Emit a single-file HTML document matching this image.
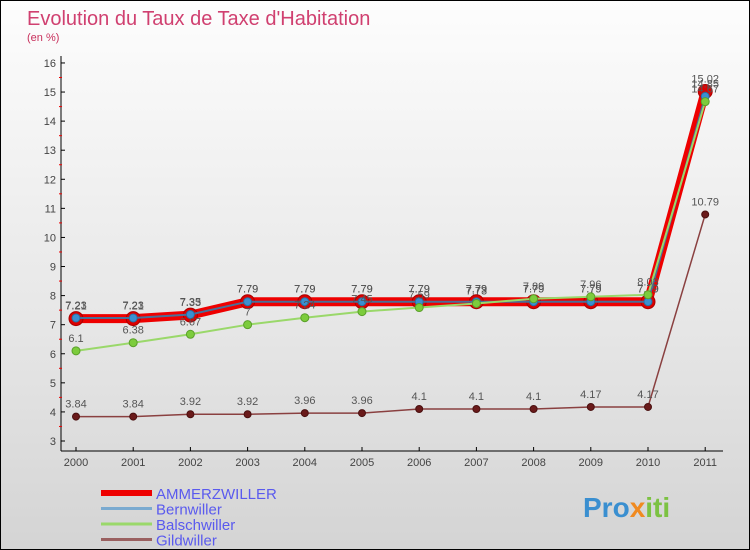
<!DOCTYPE html>
<html><head><meta charset="utf-8"><style>
body{margin:0}
#c{width:750px;height:550px;position:relative;box-sizing:border-box;border:1px solid #000;background:linear-gradient(#fdfdfd,#e6e6e6 60%,#d4d4d4);font-family:"Liberation Sans",sans-serif;overflow:hidden}
svg{position:absolute;left:0;top:0}
</style></head><body>
<div id="c">
<svg id="s" width="750" height="550">
<text x="26" y="24" font-size="20" fill="#d04070">Evolution du Taux de Taxe d'Habitation</text>
<text x="26" y="40" font-size="11" fill="#c8305c">(en %)</text>
<text x="582" y="516" font-size="28" font-weight="bold" fill="#3a8fd0">Pro<tspan fill="#f08a20">x</tspan><tspan fill="#7cc242">iti</tspan></text>
</svg>
</div>
<script>
const years=["2000","2001","2002","2003","2004","2005","2006","2007","2008","2009","2010","2011"];
const yTicks=[3,4,5,6,7,8,9,10,11,12,13,14,15,16];
const ammerz=[7.21,7.21,7.33,7.79,7.79,7.79,7.79,7.79,7.79,7.79,7.79,15.02];
const bern=[7.23,7.23,7.35,7.79,7.79,7.79,7.79,7.79,7.79,7.79,7.79,14.85];
const bals=[6.1,6.38,6.67,7,7.24,7.45,7.59,7.73,7.89,7.96,8.03,14.67];
const gild=[3.84,3.84,3.92,3.92,3.96,3.96,4.1,4.1,4.1,4.17,4.17,10.79];
const s=document.getElementById('s'),NS='http://www.w3.org/2000/svg';
const X=i=>75+i*57.2, Y=v=>440-(v-3)*29.08;
function mk(t,a,p){const e=document.createElementNS(NS,t);for(const k in a)e.setAttribute(k,a[k]);if(p===undefined)s.appendChild(e);else p.appendChild(e);return e;}
let ax=mk('line',{x1:60,y1:55,x2:60,y2:450,stroke:'#000'});


let bx=mk('line',{x1:60,y1:450,x2:722,y2:450,stroke:'#000'});


yTicks.forEach(v=>{
 mk('line',{x1:60,y1:Y(v),x2:64,y2:Y(v),stroke:'#000'});
 if(v<16)mk('line',{x1:58,y1:Y(v+0.5),x2:61,y2:Y(v+0.5),stroke:'#e00'});
 const t=mk('text',{x:55,y:Y(v)+4,'font-size':11,fill:'#444','text-anchor':'end'});t.textContent=v;
 
 
});
years.forEach((y,i)=>{
 mk('line',{x1:X(i),y1:446,x2:X(i),y2:450,stroke:'#000'});
 const t=mk('text',{x:X(i),y:465,'font-size':11,fill:'#444','text-anchor':'middle'});t.textContent=y;
 
 
});
function series(d,col,w,r,fill,stroke,name){
 const g=mk('g',{});
 
 
 mk('polyline',{points:d.map((v,i)=>X(i)+','+Y(v)).join(' '),fill:'none',stroke:col,'stroke-width':w},g);
 d.forEach((v,i)=>{
  const c=mk('circle',{cx:X(i),cy:Y(v),r:r,fill:fill,stroke:stroke,'stroke-width':1},g);
  
  
  const t=mk('text',{x:X(i),y:Y(v)-9,'font-size':11,fill:'#555','text-anchor':'middle'},g);t.textContent=v;
  
  
 });
}
series(ammerz,'#ee0000',9,7,'#dd0000','#aa0000','series-ammerzwiller');
series(bern,'#4a6f98',2,4,'#3a8fd0','#2a6fa0','series-bernwiller');
series(bals,'#9ad86a',2,4,'#7ccc3c','#5aa02a','series-balschwiller');
series(gild,'#8a4040',1.5,3.5,'#6a1a1a','#4a1010','series-gildwiller');
const legNames=["AMMERZWILLER","Bernwiller","Balschwiller","Gildwiller"];
const legCols=['#ee0000','#7aaad0','#9ad86a','#9a6060'];
legNames.forEach((n,i)=>{
 const y=492+i*15.5;
 const l=mk('line',{x1:100,y1:y,x2:151,y2:y,stroke:legCols[i],'stroke-width':i?3:6});
 
 
 const t=mk('text',{x:155,y:y+6,'font-size':15,fill:'#5a5aee'});t.textContent=n;
 
 
});
</script>
</body></html>
